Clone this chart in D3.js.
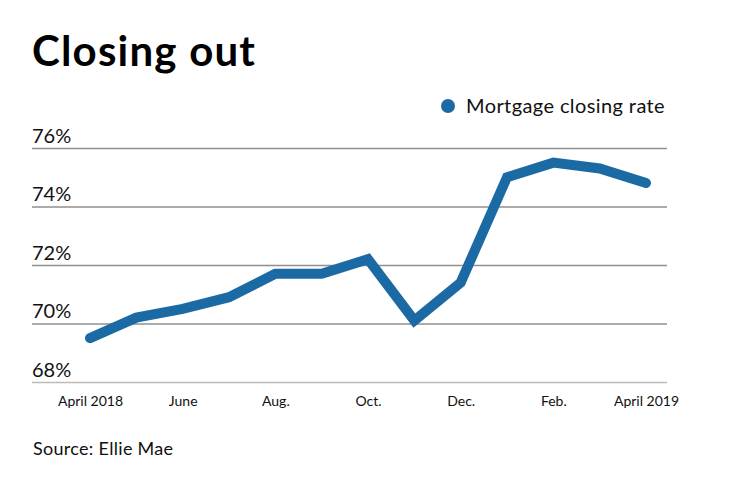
<!DOCTYPE html>
<html>
<head>
<meta charset="utf-8">
<script src="https://cdn.jsdelivr.net/npm/d3@7"></script>
<style>
  html, body { margin: 0; padding: 0; background: #fff; }
  svg { display: block; font-family: Lato, "Open Sans", sans-serif; }
</style>
</head>
<body>
<svg id="chart" width="740" height="482"></svg>
<script>
const months = ["Apr 2018","May 2018","Jun 2018","Jul 2018","Aug 2018","Sep 2018","Oct 2018","Nov 2018","Dec 2018","Jan 2019","Feb 2019","Mar 2019","Apr 2019"];
const closingRate = [69.5, 70.2, 70.5, 70.9, 71.7, 71.7, 72.2, 70.1, 71.4, 75.0, 75.5, 75.3, 74.8];
const xTickMonths = ["Apr 2018","Jun 2018","Aug 2018","Oct 2018","Dec 2018","Feb 2019","Apr 2019"];
const xTickLabels = ["April 2018","June","Aug.","Oct.","Dec.","Feb.","April 2019"];
const yTicks = [68, 70, 72, 74, 76];
const seriesName = "Mortgage closing rate";
const title = "Closing out";
const source = "Source: Ellie Mae";

const svg = d3.select("#chart");
const lineColor = "#1c6aa3";

const x = d3.scalePoint().domain(months).range([90, 646]);
const y = d3.scaleLinear().domain([68, 76]).range([382, 148]);

// Title
svg.append("text").attr("x", 32).attr("y", 66)
  .attr("font-size", 42).attr("font-weight", 700).attr("letter-spacing", 1.2).attr("fill", "#000")
  .text(title);

// Legend
svg.append("circle").attr("cx", 448).attr("cy", 106).attr("r", 7).attr("fill", lineColor);
svg.append("text").attr("x", 466).attr("y", 113)
  .attr("font-size", 20).attr("letter-spacing", 0.4).attr("fill", "#111").text(seriesName);

// Gridlines + y labels
const yAxis = d3.axisLeft(y).tickValues(yTicks).tickSize(0).tickFormat(d => d + "%");
const gy = svg.append("g").call(yAxis);
gy.select(".domain").remove();
gy.selectAll(".tick line").remove();
gy.selectAll(".tick").append("line")
  .attr("x1", 32).attr("x2", 667).attr("y1", 0).attr("y2", 0)
  .attr("stroke", d => d === 68 ? "#bbbbbb" : "#8f8f8f").attr("stroke-width", 1.3);
gy.selectAll(".tick text")
  .attr("x", 32).attr("dy", -6).attr("text-anchor", "start")
  .attr("font-size", 20).attr("fill", "#111").attr("font-family", "Lato, 'Open Sans', sans-serif");

// X axis labels
const xAxis = d3.axisBottom(x).tickValues(xTickMonths).tickSize(0)
  .tickFormat(d => xTickLabels[xTickMonths.indexOf(d)]);
const gx = svg.append("g").attr("transform", "translate(0,394)").call(xAxis);
gx.select(".domain").remove();
gx.selectAll(".tick text").attr("dy", 0).attr("y", 12)
  .attr("font-size", 14).attr("fill", "#111").attr("font-family", "Lato, 'Open Sans', sans-serif");

// Line
const line = d3.line().x((d, i) => x(months[i])).y(d => y(d));
svg.append("path").datum(closingRate)
  .attr("d", line).attr("fill", "none")
  .attr("stroke", lineColor).attr("stroke-width", 10)
  .attr("stroke-linecap", "round").attr("stroke-linejoin", "miter");

// Source
svg.append("text").attr("x", 33).attr("y", 455)
  .attr("font-size", 18).attr("letter-spacing", 0.3).attr("fill", "#111").text(source);
</script>
</body>
</html>
